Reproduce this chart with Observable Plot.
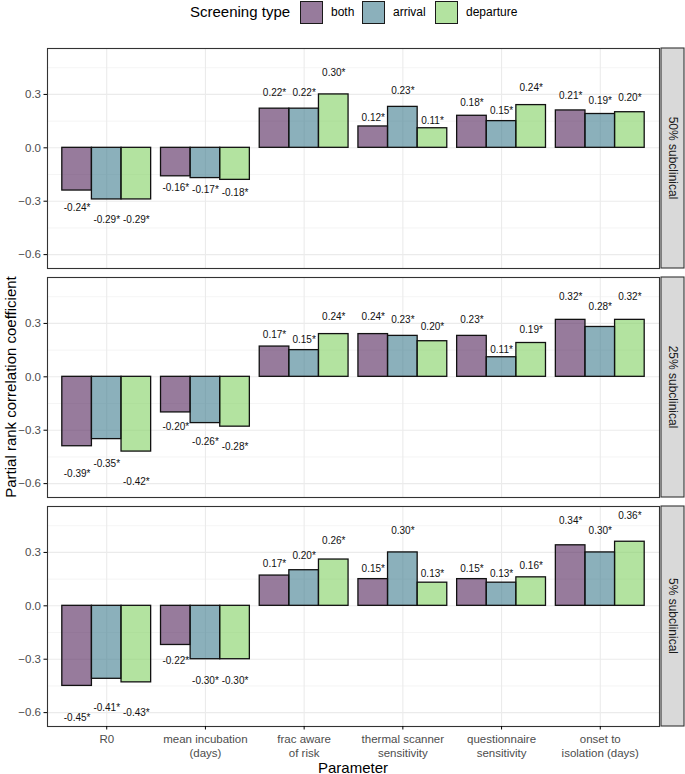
<!DOCTYPE html>
<html>
<head>
<meta charset="utf-8">
<script src="https://cdn.jsdelivr.net/npm/d3@7"></script>
<script src="https://cdn.jsdelivr.net/npm/@observablehq/plot@0.6"></script>
<style>
  body { margin: 0; background: #fff; font-family: "Liberation Sans", Arial, sans-serif; }
  #legend { position: relative; height: 28px; width: 685px; }
  #legend .title { position: absolute; left: 190px; top: 3px; font-size: 15px; color: #000; }
  #legend .key { position: absolute; top: 1px; width: 21px; height: 21px; border: 1px solid #1a1a1a; }
  #legend .lab { position: absolute; top: 5px; font-size: 12px; color: #000; }
  [aria-label="y-axis tick label"], [aria-label="x-axis tick label"] { fill: #4d4d4d; }
  [aria-label="y-axis tick"], [aria-label="x-axis tick"] { stroke: #333333; }
</style>
</head>
<body>
<div id="legend"></div>
<div id="chart"></div>
<script>
// ---- data ----
const parameters = ["R0", "mean incubation\n(days)", "frac aware\nof risk", "thermal scanner\nsensitivity", "questionnaire\nsensitivity", "onset to\nisolation (days)"];
const screeningTypes = ["both", "arrival", "departure"];
const panels = ["50% subclinical", "25% subclinical", "5% subclinical"];
const yTicks = [-0.6, -0.3, 0.0, 0.3];

const both50      = [-0.24, -0.16, 0.22, 0.12, 0.18, 0.21];
const arrival50   = [-0.29, -0.17, 0.22, 0.23, 0.15, 0.19];
const departure50 = [-0.29, -0.18, 0.30, 0.11, 0.24, 0.20];

const both25      = [-0.39, -0.20, 0.17, 0.24, 0.23, 0.32];
const arrival25   = [-0.35, -0.26, 0.15, 0.23, 0.11, 0.28];
const departure25 = [-0.42, -0.28, 0.24, 0.20, 0.19, 0.32];

const both5       = [-0.45, -0.22, 0.17, 0.15, 0.15, 0.34];
const arrival5    = [-0.41, -0.30, 0.20, 0.30, 0.13, 0.30];
const departure5  = [-0.43, -0.30, 0.26, 0.13, 0.16, 0.36];

const seriesByPanel = {
  "50% subclinical": [both50, arrival50, departure50],
  "25% subclinical": [both25, arrival25, departure25],
  "5% subclinical":  [both5, arrival5, departure5]
};

const typeColors = ["#52235a", "#3e7b8e", "#80d061"];
const barOpacity = 0.6;

// ---- table ----
const rows = [];
panels.forEach(panel => {
  seriesByPanel[panel].forEach((vals, ti) => {
    vals.forEach((value, pi) => {
      rows.push({panel, type: screeningTypes[ti], ti, pi, value});
    });
  });
});

// ---- legend ----
const legend = d3.select("#legend");
legend.append("div").attr("class", "title").text("Screening type");
const keyX = [300, 362, 435];
screeningTypes.forEach((t, i) => {
  legend.append("div").attr("class", "key")
    .style("left", keyX[i] + "px")
    .style("background", d3.color(typeColors[i]).copy({opacity: barOpacity}).formatRgb());
  legend.append("div").attr("class", "lab").style("left", (keyX[i] + 31) + "px").text(t);
});

// ---- chart ----
const W = 685, H = 746, mT = 19, mB = 47, mL = 47, mR = 26;
const grid = "#ebebeb";

const chart = Plot.plot({
  width: W, height: H,
  marginTop: mT, marginBottom: mB, marginLeft: mL, marginRight: mR,
  style: {fontFamily: "Liberation Sans, Arial, sans-serif", background: "white", overflow: "visible"},
  x: {type: "linear", domain: [-0.6, 5.6]},
  y: {domain: [-0.678, 0.558]},
  fy: {domain: panels, paddingInner: 0.04, paddingOuter: 0, axis: null},
  color: {domain: screeningTypes, range: typeColors},
  marks: [
    Plot.ruleY([-0.45, -0.15, 0.15, 0.45], {stroke: grid, strokeWidth: 0.55}),
    Plot.ruleY(yTicks, {stroke: grid, strokeWidth: 1.1}),
    Plot.ruleX(d3.range(parameters.length), {stroke: grid, strokeWidth: 1.1}),
    Plot.rect(rows, {
      x1: d => d.pi - 0.45 + d.ti * 0.3,
      x2: d => d.pi - 0.15 + d.ti * 0.3,
      y1: 0, y2: "value", fy: "panel",
      fill: "type", fillOpacity: barOpacity, stroke: "#111", strokeWidth: 1.3
    }),
    Plot.text(rows, {
      x: d => d.pi - 0.3 + d.ti * 0.3,
      y: d => d.value * 1.4,
      fy: "panel",
      text: d => d.value.toFixed(2) + "*",
      fontSize: 10, fill: "#111"
    }),
    Plot.frame({stroke: "#333333", strokeWidth: 1.1}),
    Plot.axisY({ticks: yTicks, tickFormat: d3.format(".1f"), tickSize: 3.5, tickPadding: 3, fontSize: 11.5, label: null}),
    Plot.axisX({ticks: d3.range(parameters.length), tickFormat: i => parameters[i], tickSize: 3.5, tickPadding: 4, fontSize: 11.5, lineHeight: 1.15, label: null})
  ]
});

document.getElementById("chart").appendChild(chart);

// ---- facet strips and axis titles ----
const svg = d3.select(chart);
const fy = chart.scale("fy");
panels.forEach(p => {
  const top = fy.apply(p);
  const bw = fy.bandwidth;
  svg.append("rect")
    .attr("x", W - mR + 2).attr("y", top)
    .attr("width", 23).attr("height", bw)
    .attr("fill", "#d9d9d9").attr("stroke", "#333333").attr("stroke-width", 1.1);
  svg.append("text")
    .attr("transform", `translate(${W - mR + 13.5},${top + bw / 2}) rotate(90)`)
    .attr("text-anchor", "middle").attr("dominant-baseline", "central")
    .attr("font-size", 12).attr("fill", "#1a1a1a")
    .text(p);
});
svg.append("text")
  .attr("transform", `translate(10,${(mT + H - mB) / 2}) rotate(-90)`)
  .attr("text-anchor", "middle").attr("dominant-baseline", "central")
  .attr("font-size", 15).attr("fill", "#000")
  .text("Partial rank correlation coefficient");
svg.append("text")
  .attr("x", (mL + W - mR) / 2).attr("y", H - 7)
  .attr("text-anchor", "middle").attr("dominant-baseline", "central")
  .attr("font-size", 15).attr("fill", "#000")
  .text("Parameter");
</script>
</body>
</html>
